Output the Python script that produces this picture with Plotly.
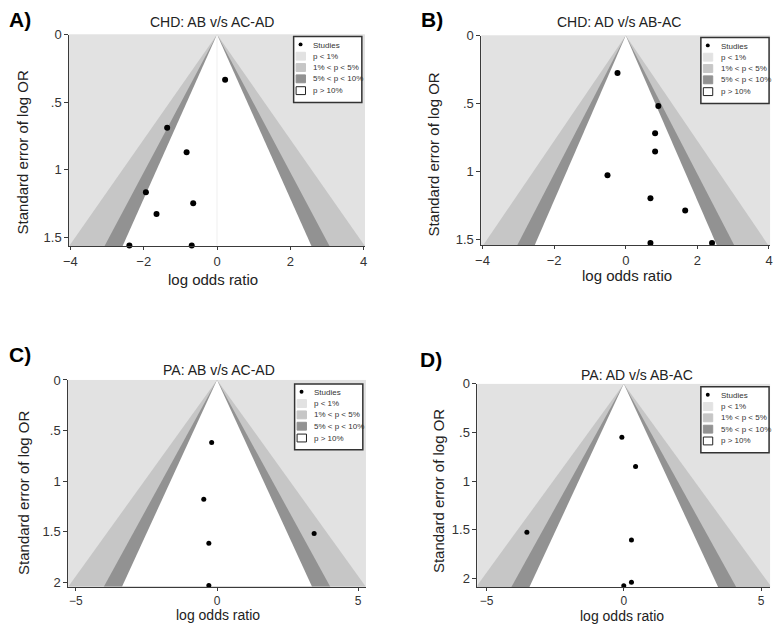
import plotly.graph_objects as go

# ---------------- data ----------------
A_title = "CHD: AB v/s AC-AD"
A_logor = [0.22, -1.36, -0.83, -1.94, -0.65, -1.65, -2.39, -0.69]
A_se = [0.335, 0.69, 0.872, 1.168, 1.248, 1.328, 1.562, 1.562]

B_title = "CHD: AD v/s AB-AC"
B_logor = [-0.23, 0.91, 0.82, 0.82, -0.51, 0.69, 1.66, 0.69, 2.41]
B_se = [0.276, 0.52, 0.72, 0.855, 1.03, 1.20, 1.29, 1.53, 1.53]

C_title = "PA: AB v/s AC-AD"
C_logor = [-0.19, -0.47, -0.29, -0.29, 3.44]
C_se = [0.62, 1.18, 1.615, 2.035, 1.52]

D_title = "PA: AD v/s AB-AC"
D_logor = [-0.07, 0.43, -3.53, 0.28, 0.28, 0.0]
D_se = [0.55, 0.85, 1.525, 1.605, 2.04, 2.075]

A_xticks = [-4, -2, 0, 2, 4]
B_xticks = [-4, -2, 0, 2, 4]
C_xticks = [-5, 0, 5]
D_xticks = [-5, 0, 5]
AB_yticks = [0, 0.5, 1, 1.5]
AB_ytext = ["0", ".5", "1", "1.5"]
CD_yticks = [0, 0.5, 1, 1.5, 2]
CD_ytext = ["0", ".5", "1", "1.5", "2"]

legend_labels = ["Studies", "p < 1%", "1% < p < 5%", "5% < p < 10%", "p > 10%"]
z_crit = [2.576, 1.96, 1.645]  # 1%, 5%, 10% contours

# ---------------- styling ----------------
W, H = 778, 627
FONT = "Liberation Sans, Arial, sans-serif"
C_LIGHT = "#e2e2e2"
C_MED = "#c6c6c6"
C_DARK = "#929292"
C_WHITE = "#ffffff"
fills = [C_MED, C_DARK, C_WHITE]


def PX(x):
    return x / W


def PY(y):
    return 1 - y / H


panels = [
    dict(name="A)", title=A_title, x=A_logor, y=A_se, xticks=A_xticks,
         yticks=AB_yticks, ytext=AB_ytext, xr=4.03, ymax=1.566,
         box=(64, 28, 363, 243), lab=(1, 13), tit=(208, 15),
         ytit=(17, 148), xtit=(209, 277), xtsize=15, xtick=13,
         leg=(291, 30), msize=6, zeroline=True),
    dict(name="B)", title=B_title, x=B_logor, y=B_se, xticks=B_xticks,
         yticks=AB_yticks, ytext=AB_ytext, xr=4.03, ymax=1.545,
         box=(481, 29, 773, 242), lab=(418, 13), tit=(620, 15),
         ytit=(433, 150), xtit=(628, 273), xtsize=15, xtick=13,
         leg=(703, 31), msize=6, zeroline=False),
    dict(name="C)", title=C_title, x=C_logor, y=C_se, xticks=C_xticks,
         yticks=CD_yticks, ytext=CD_ytext, xr=5.27, ymax=2.045,
         box=(63, 379, 364, 589), lab=(1, 353), tit=(215, 369),
         ytit=(17, 494), xtit=(214, 617.5), xtsize=14, xtick=12,
         leg=(292, 383), msize=5, zeroline=False),
    dict(name="D)", title=D_title, x=D_logor, y=D_se, xticks=D_xticks,
         yticks=CD_yticks, ytext=CD_ytext, xr=5.33, ymax=2.09,
         box=(477, 383, 773, 589.5), lab=(417, 358), tit=(638, 374),
         ytit=(437, 492), xtit=(623, 618.5), xtsize=14, xtick=12,
         leg=(703, 386), msize=5, zeroline=False),
]

fig = go.Figure()
annotations = []
shapes = []

for i, p in enumerate(panels):
    k = "" if i == 0 else str(i + 1)
    xa, ya = "x" + k, "y" + k
    x0, y0, x1, y1 = p["box"]
    fig.layout["xaxis" + k] = dict(
        domain=[PX(x0), PX(x1)], anchor=ya, range=[-p["xr"], p["xr"]],
        tickvals=p["xticks"], showgrid=False, zeroline=False,
        showline=True, linecolor="#3a3a3a", linewidth=1,
        ticks="outside", ticklen=3, tickcolor="#3a3a3a",
        tickfont=dict(size=p["xtick"], color="#333", family=FONT))
    fig.layout["yaxis" + k] = dict(
        domain=[PY(y1), PY(y0)], anchor=xa, range=[p["ymax"], 0],
        tickvals=p["yticks"], ticktext=p["ytext"], showgrid=False, zeroline=False,
        showline=True, linecolor="#3a3a3a", linewidth=1,
        ticks="outside", ticklen=4, tickcolor="#3a3a3a",
        tickfont=dict(size=13, color="#333", family=FONT))

    # background (p < 1%)
    shapes.append(dict(type="rect", xref=xa + " domain", yref=ya + " domain",
                       x0=0, x1=1, y0=0, y1=1, fillcolor=C_LIGHT,
                       line=dict(width=0), layer="below"))
    # contour regions, extended far and clipped by the axes
    S = 50
    for z, col in zip(z_crit, fills):
        fig.add_trace(go.Scatter(
            x=[0, -z * S, z * S, 0], y=[0, S, S, 0], xaxis=xa, yaxis=ya,
            mode="none", fill="toself", fillcolor=col, showlegend=False,
            hoverinfo="skip"))
    if p["zeroline"]:
        fig.add_trace(go.Scatter(x=[0, 0], y=[0, p["ymax"]], xaxis=xa, yaxis=ya,
                                 mode="lines", line=dict(color="#efefef", width=1),
                                 showlegend=False, hoverinfo="skip"))
    # studies
    fig.add_trace(go.Scatter(
        x=p["x"], y=p["y"], xaxis=xa, yaxis=ya, mode="markers",
        marker=dict(color="black", size=p["msize"]), showlegend=False,
        cliponaxis=False, name="Studies"))

    # texts
    annotations.append(dict(text="<b>" + p["name"] + "</b>", xref="paper", yref="paper",
                            x=PX(p["lab"][0]), y=PY(p["lab"][1]), xanchor="left",
                            yanchor="middle", showarrow=False,
                            font=dict(size=21, family=FONT, color="black")))
    annotations.append(dict(text=p["title"], xref="paper", yref="paper",
                            x=PX(p["tit"][0]), y=PY(p["tit"][1]), xanchor="center",
                            yanchor="middle", showarrow=False,
                            font=dict(size=14, family=FONT, color="#222")))
    annotations.append(dict(text="Standard error of log OR", xref="paper", yref="paper",
                            x=PX(p["ytit"][0]), y=PY(p["ytit"][1]), xanchor="center",
                            yanchor="middle", showarrow=False, textangle=-90,
                            font=dict(size=15, family=FONT, color="#222")))
    annotations.append(dict(text="log odds ratio", xref="paper", yref="paper",
                            x=PX(p["xtit"][0]), y=PY(p["xtit"][1]), xanchor="center",
                            yanchor="middle", showarrow=False, borderpad=0,
                            font=dict(size=p["xtsize"], family=FONT, color="#222")))

    # legend box (manual)
    lx, ly = p["leg"]
    shapes.append(dict(type="rect", xref="paper", yref="paper",
                       x0=PX(lx), x1=PX(lx + 69), y0=PY(ly + 67), y1=PY(ly),
                       fillcolor="white", line=dict(color="#333", width=1.5)))
    rows = [9, 20, 31.5, 43, 55]
    swatch = [None, C_LIGHT, C_MED, C_DARK, C_WHITE]
    for j, (lab, ry) in enumerate(zip(legend_labels, rows)):
        cy = ly + ry
        if j == 0:
            shapes.append(dict(type="circle", xref="paper", yref="paper",
                               x0=PX(lx + 5), x1=PX(lx + 9), y0=PY(cy - 3), y1=PY(cy + 1),
                               fillcolor="black", line=dict(width=0)))
        else:
            shapes.append(dict(type="rect", xref="paper", yref="paper",
                               x0=PX(lx + 2.5), x1=PX(lx + 12), y0=PY(cy + 4), y1=PY(cy - 4),
                               fillcolor=swatch[j],
                               line=dict(color="#222" if j == 4 else swatch[j], width=1)))
        annotations.append(dict(text=lab, xref="paper", yref="paper",
                                x=PX(lx + 18), y=PY(cy), xanchor="left", yanchor="middle",
                                showarrow=False,
                                font=dict(size=8, family=FONT, color="#333")))

fig.update_layout(width=W, height=H, autosize=False,
                  margin=dict(l=0, r=0, t=0, b=0),
                  paper_bgcolor="white", plot_bgcolor=C_LIGHT,
                  showlegend=False, annotations=annotations, shapes=shapes)

fig.write_html("out.html", config={"displayModeBar": False},
               post_script="document.body.style.margin='0';document.body.style.overflow='hidden';")
